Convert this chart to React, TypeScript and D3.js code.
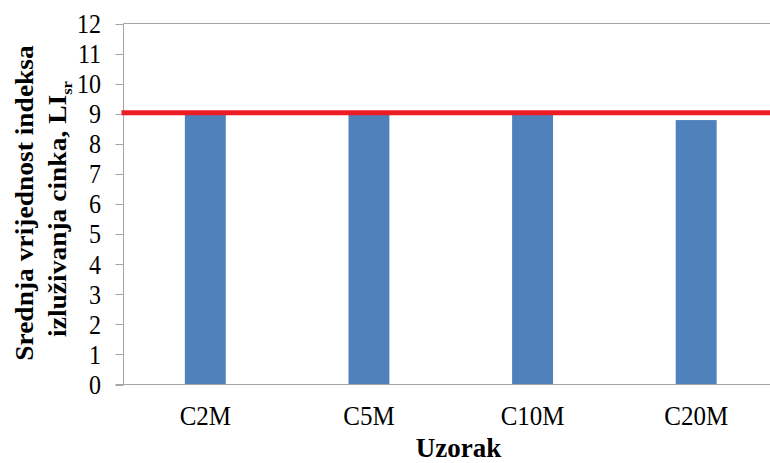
import React from "react";
import * as d3 from "d3";

const categories = ["C2M", "C5M", "C10M", "C20M"];
const values = [8.98, 8.98, 8.98, 8.79];
const referenceValue = 9;
const yTicks = [0, 1, 2, 3, 4, 5, 6, 7, 8, 9, 10, 11, 12];

const W = 770;
const H = 463;
const left = 123.5;
const right = 778;
const top = 23.5;
const bottom = 384.5;
const font = "'Liberation Serif', 'Times New Roman', serif";

export default function App() {
  const x = d3.scaleBand<string>().domain(categories).range([left, right]).paddingInner(0.75).paddingOuter(0.375);
  const y = d3.scaleLinear().domain([0, 12]).range([bottom, top]);

  return (
    <svg width={W} height={H} style={{ position: "absolute", left: 0, top: 0, background: "#fff" }}>
      {categories.map((c, i) => (
        <rect key={c} x={x(c)} y={y(values[i])} width={x.bandwidth()} height={y(0) - y(values[i])} fill="#4F81BD" />
      ))}
      <line x1={left} x2={W} y1={top} y2={top} stroke="#A6A6A6" strokeWidth={1} />
      <line x1={left} x2={left} y1={top} y2={bottom} stroke="#A6A6A6" strokeWidth={1} />
      <line x1={left - 8} x2={W} y1={bottom} y2={bottom} stroke="#A6A6A6" strokeWidth={1} />
      {yTicks.map((t) => (
        <g key={t}>
          <line x1={left - 8} x2={left} y1={Math.round(y(t)) + 0.5} y2={Math.round(y(t)) + 0.5} stroke="#A6A6A6" />
          <g transform={`translate(101,${y(t)}) scale(1,1.12)`}>
            <text x={0} y={0} dy="0.35em" textAnchor="end" fontFamily={font} fontSize={24} fill="#000">
              {t}
            </text>
          </g>
        </g>
      ))}
      <line x1={left - 2} x2={W} y1={y(referenceValue) - 1} y2={y(referenceValue) - 1} stroke="#ED1C24" strokeWidth={5} />
      {categories.map((c) => (
        <g key={c} transform={`translate(${(x(c) as number) + x.bandwidth() / 2},425) scale(1,1.1)`}>
          <text x={0} y={0} textAnchor="middle" fontFamily={font} fontSize={25} fill="#000">
            {c}
          </text>
        </g>
      ))}
      <text x={458.5} y={457} textAnchor="middle" fontFamily={font} fontSize={27} fontWeight="bold" fill="#000">
        Uzorak
      </text>
      <g transform="translate(0,203) rotate(-90) scale(1.1,1)">
        <text x={0} y={33} textAnchor="middle" fontFamily={font} fontSize={25} fontWeight="bold" fill="#000">
          Srednja vrijednost indeksa
        </text>
      </g>
      <g transform="translate(0,209) rotate(-90) scale(1.1,1)">
        <text x={0} y={66} textAnchor="middle" fontFamily={font} fontSize={25} fontWeight="bold" fill="#000">
          izluživanja cinka, LI<tspan fontSize={15} dy={6}>sr</tspan>
        </text>
      </g>
    </svg>
  );
}
